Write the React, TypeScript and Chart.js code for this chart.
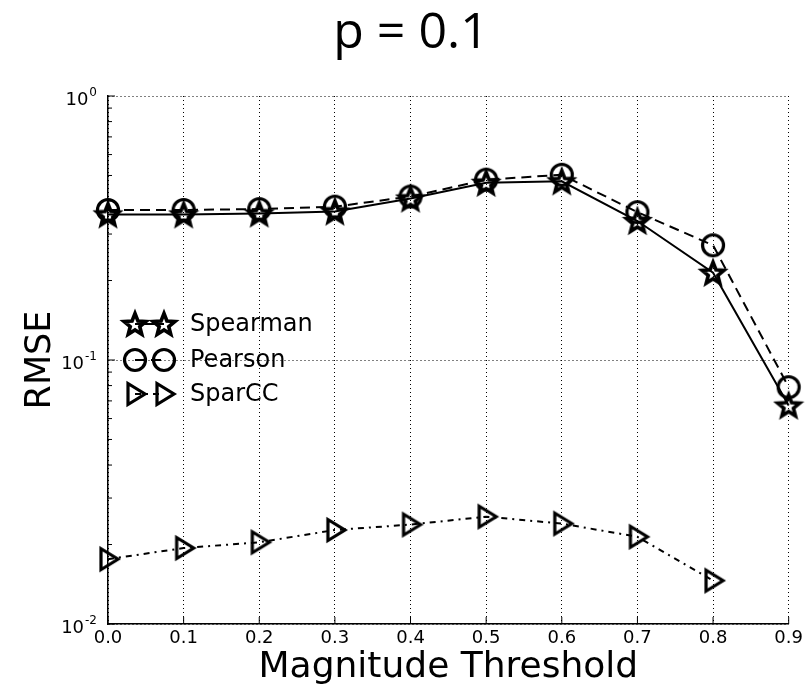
import { useRef, useEffect } from 'react';
import { Chart, registerables } from 'chart.js';

Chart.register(...registerables);

const thresholds = [0.0, 0.1, 0.2, 0.3, 0.4, 0.5, 0.6, 0.7, 0.8, 0.9];
const spearman = [0.356, 0.356, 0.359, 0.365, 0.409, 0.469, 0.475, 0.336, 0.214, 0.0672];
const pearson = [0.370, 0.370, 0.373, 0.381, 0.416, 0.482, 0.503, 0.363, 0.272, 0.0789];
const sparcc = [0.0176, 0.0194, 0.0204, 0.0227, 0.0238, 0.0255, 0.0240, 0.0214, 0.0146];
const seriesNames = ['Spearman', 'Pearson', 'SparCC'];
const yDecades = [1, 0.1, 0.01];
const yExponents = ['0', '-1', '-2'];
const titleText = 'p = 0.1';

function isDecade(v: number) {
  const l = Math.log10(v);
  return Math.abs(l - Math.round(l)) < 1e-6;
}

function makeMarker(kind: string): HTMLCanvasElement {
  const c = document.createElement('canvas');
  c.width = 32;
  c.height = 32;
  const g = c.getContext('2d')!;
  g.translate(16, 16);
  g.strokeStyle = '#000';
  g.lineWidth = 3.2;
  g.lineJoin = 'miter';
  g.beginPath();
  if (kind === 'star') {
    g.lineWidth = 3.6;
    for (let i = 0; i < 10; i++) {
      const r = i % 2 === 0 ? 11.5 : 5;
      const a = -Math.PI / 2 + (i * Math.PI) / 5;
      const px = r * Math.cos(a);
      const py = r * Math.sin(a) + 1;
      if (i === 0) g.moveTo(px, py); else g.lineTo(px, py);
    }
    g.closePath();
  } else if (kind === 'circle') {
    g.arc(0, 0, 10.5, 0, Math.PI * 2);
  } else {
    g.moveTo(-7, -10.5);
    g.lineTo(10, 0);
    g.lineTo(-7, 10.5);
    g.closePath();
  }
  g.stroke();
  return c;
}

export default function App() {
  const canvasRef = useRef<HTMLCanvasElement>(null);

  useEffect(() => {
    if (!canvasRef.current) return;
    const ctx = canvasRef.current.getContext('2d');
    if (!ctx) return;

    const markers = [makeMarker('star'), makeMarker('circle'), makeMarker('tri')];
    const dashes = [[], [10, 6], [6, 5, 2, 5]];

    // inward ticks, 10^n tick labels with real superscripts, and the title
    const ticksPlugin = {
      id: 'innerTicks',
      afterDraw(chart: Chart) {
        const c = chart.ctx;
        const area = chart.chartArea;
        const y = chart.scales.y;
        const x = chart.scales.x;
        c.save();
        c.strokeStyle = '#000';
        c.lineWidth = 1;
        for (let e = -2; e <= 0; e++) {
          for (let m = 1; m <= 9; m++) {
            const v = m * Math.pow(10, e);
            if (v > 1.0001) continue;
            const py = y.getPixelForValue(v);
            const len = m === 1 ? 7 : 4;
            c.beginPath();
            c.moveTo(area.left, py);
            c.lineTo(area.left + len, py);
            c.stroke();
          }
        }
        thresholds.forEach(t => {
          const px = x.getPixelForValue(t);
          c.beginPath();
          c.moveTo(px, area.bottom);
          c.lineTo(px, area.bottom - 7);
          c.stroke();
        });

        c.fillStyle = '#000';
        c.textBaseline = 'alphabetic';
        c.textAlign = 'right';
        yDecades.forEach((v, i) => {
          const py = y.getPixelForValue(v);
          const right = area.left - 11;
          c.font = '12px "DejaVu Sans"';
          const ew = c.measureText(yExponents[i]).width;
          c.fillText(yExponents[i], right, py);
          c.font = '18px "DejaVu Sans"';
          c.fillText('10', right - ew - 1, py + 9);
        });

        c.font = '50px "Open Sans"';
        c.textAlign = 'center';
        c.textBaseline = 'middle';
        c.fillText(titleText, 411, 34);
        c.restore();
      },
    };

    // legend drawn with a pair of markers per entry
    const legendPlugin = {
      id: 'pairLegend',
      afterDraw(chart: Chart) {
        const c = chart.ctx;
        const rows = [324, 360, 394];
        c.save();
        seriesNames.forEach((name, i) => {
          const ry = rows[i];
          c.strokeStyle = '#000';
          c.lineWidth = 2;
          c.setLineDash(dashes[i]);
          c.beginPath();
          c.moveTo(135, ry);
          c.lineTo(164, ry);
          c.stroke();
          c.setLineDash([]);
          const mk = markers[i];
          c.drawImage(mk, 135 - mk.width / 2, ry - mk.height / 2);
          c.drawImage(mk, 164 - mk.width / 2, ry - mk.height / 2);
          c.fillStyle = '#000';
          c.font = '24px "DejaVu Sans"';
          c.textBaseline = 'middle';
          c.textAlign = 'left';
          c.fillText(name, 190, ry + 1);
        });
        c.restore();
      },
    };

    const toPoints = (vals: number[]) => vals.map((v, i) => ({ x: thresholds[i], y: v }));

    const chart = new Chart(ctx, {
      type: 'line',
      data: {
        datasets: [spearman, pearson, sparcc].map((vals, i) => ({
          label: seriesNames[i],
          data: toPoints(vals),
          borderColor: '#000',
          borderWidth: 2,
          borderDash: dashes[i],
          pointStyle: markers[i],
          pointRadius: 12,
          fill: false,
          tension: 0,
          clip: false,
        })),
      },
      options: {
        animation: false,
        responsive: true,
        maintainAspectRatio: false,
        layout: { padding: { left: 0, right: 16, top: 96, bottom: 0 } },
        plugins: {
          legend: { display: false },
          tooltip: { enabled: false },
          title: { display: false },
        },
        scales: {
          x: {
            type: 'linear',
            min: 0,
            max: 0.9,
            afterFit: (s: any) => { s.height = 65; },
            ticks: {
              stepSize: 0.1,
              padding: 4,
              color: '#000',
              font: { family: '"DejaVu Sans"', size: 18 },
              callback: (v: any) => Number(v).toFixed(1),
            },
            grid: { color: '#000', lineWidth: 1, drawTicks: false },
            border: { display: true, color: '#000', width: 1.5, dash: [1, 3] },
            title: {
              display: true,
              text: 'Magnitude Threshold',
              color: '#000',
              font: { family: '"DejaVu Sans"', size: 36 },
              padding: { top: 0, bottom: 0 },
            },
          },
          y: {
            type: 'logarithmic',
            min: 0.01,
            max: 1,
            afterFit: (s: any) => { s.width = 108; },
            ticks: {
              autoSkip: false,
              padding: 8,
              color: '#000',
              font: { family: '"DejaVu Sans"', size: 18 },
              callback: () => '',
            },
            grid: {
              drawTicks: false,
              lineWidth: 1,
              color: (c: any) => (c.tick && isDecade(c.tick.value) ? '#000' : 'rgba(0,0,0,0)'),
            },
            border: { display: true, color: '#000', width: 1.5, dash: [1, 3] },
            title: {
              display: true,
              text: 'RMSE',
              color: '#000',
              font: { family: '"DejaVu Sans"', size: 35 },
              padding: { top: 20, bottom: 0 },
            },
          },
        },
      },
      plugins: [ticksPlugin, legendPlugin],
    });

    return () => { chart.destroy(); };
  }, []);

  return (
    <div style={{ position: 'absolute', left: 0, top: 0, width: 807, height: 689, background: '#fff' }}>
      <canvas ref={canvasRef} />
    </div>
  );
}
